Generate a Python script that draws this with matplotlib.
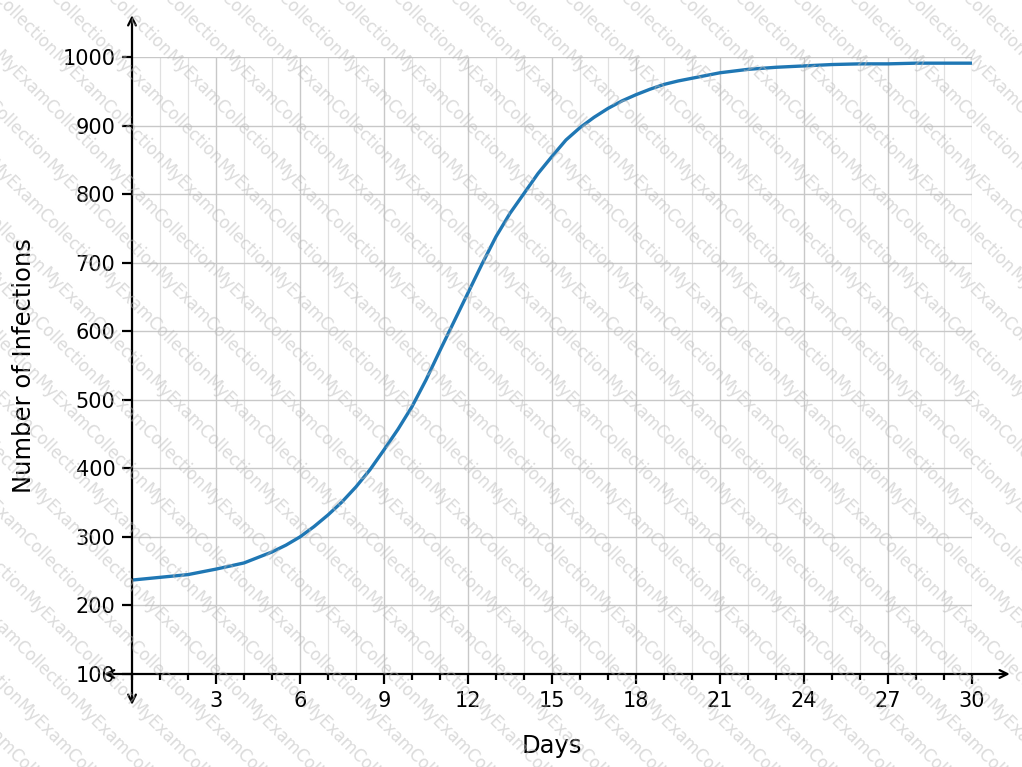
import numpy as np
import matplotlib
matplotlib.use("Agg")
import matplotlib.pyplot as plt
from matplotlib.ticker import MultipleLocator

# Infection counts
days = [0, 1, 2, 3, 4, 4.5, 5, 5.5, 6, 6.5, 7, 7.5, 8, 8.5, 9, 9.5, 10, 10.5,
        11, 11.5, 12, 12.5, 13, 13.5, 14, 14.5, 15, 15.5, 16, 16.5, 17, 17.5,
        18, 18.5, 19, 19.5, 20, 21, 22, 23, 24, 25, 26, 27, 28, 29, 30]
infections = [237, 241, 245, 253, 262, 270, 278, 288, 300, 315, 332, 351, 373, 398,
              427, 457, 490, 529, 572, 614, 656, 698, 738, 772, 801, 830, 855, 879,
              897, 912, 925, 936, 945, 953, 960, 965, 969, 977, 982, 985, 987, 989,
              990, 990, 991, 991, 991]

x_ticks = [3, 6, 9, 12, 15, 18, 21, 24, 27, 30]
y_ticks = [100, 200, 300, 400, 500, 600, 700, 800, 900, 1000]

W, H = 1022, 767
fig = plt.figure(figsize=(W / 100, H / 100), dpi=100)
ax = fig.add_axes([132 / W, (H - 674) / H, (972 - 132) / W, (674 - 57) / H])

ax.plot(days, infections, color="#1f77b4", linewidth=2.4, zorder=3)

ax.set_xlim(0, 30)
ax.set_ylim(100, 1000)
ax.set_xticks(x_ticks)
ax.set_yticks(y_ticks)
ax.xaxis.set_minor_locator(MultipleLocator(1))

# grid: major lines darker, minor day lines lighter
ax.grid(which="major", color="#c8c8c8", linewidth=1.0)
ax.grid(which="minor", axis="x", color="#e0e0e0", linewidth=0.9)

for s in ax.spines.values():
    s.set_visible(False)

ax.tick_params(which="major", length=7, width=1.6, labelsize=15, pad=5)
ax.tick_params(which="minor", length=4, width=1.6)

# axes drawn as arrows through the origin
arrow = dict(arrowstyle="<->", color="black", lw=1.6, shrinkA=0, shrinkB=0,
             mutation_scale=14)
ax.annotate("", xy=(0, 1061), xytext=(0, 55), arrowprops=arrow,
            annotation_clip=False, zorder=4)
ax.annotate("", xy=(31.35, 100), xytext=(-1.0, 100), arrowprops=arrow,
            annotation_clip=False, zorder=4)

ax.set_xlabel("Days", fontsize=17.5, labelpad=17)
ax.set_ylabel("Number of Infections", fontsize=17.5, labelpad=19)

# watermark tiled along diagonals over the whole figure
renderer = fig.canvas.get_renderer()
probe = fig.text(0, 0, "MyExamCollection", fontsize=12)
tw = probe.get_window_extent(renderer).width
probe.remove()
ang = np.deg2rad(45)
for i in range(-20, 22):
    for k in range(0, 10):
        px = i * 57 + k * tw * np.cos(ang)
        py = H - k * tw * np.sin(ang)
        if -90 < px < W + 90 and -90 < py < H + 90:
            fig.text(px / W, py / H, "MyExamCollection", fontsize=12,
                     color="#b8b8b8", alpha=0.5, rotation=-45,
                     ha="center", va="center", rotation_mode="anchor", zorder=10)

fig.savefig("out.png", dpi=100)
